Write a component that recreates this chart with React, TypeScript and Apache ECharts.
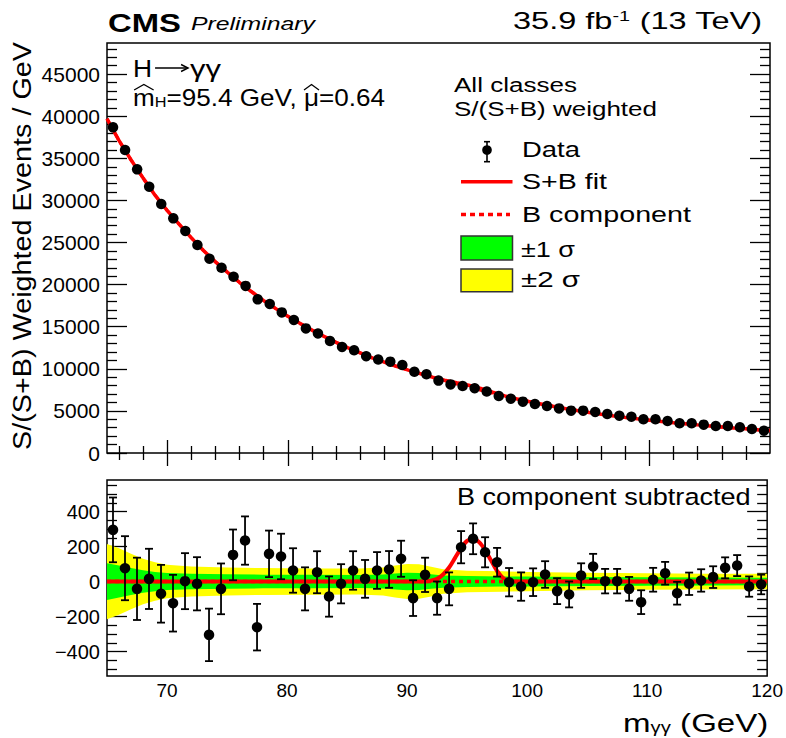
import React, { useEffect, useRef } from "react";
import * as echarts from "echarts";

const FONT = '"Liberation Sans", Arial, Helvetica, sans-serif';

// Diphoton mass bin centres (GeV), 1 GeV wide bins
const massBins = [
  65.5, 66.5, 67.5, 68.5, 69.5, 70.5, 71.5, 72.5, 73.5, 74.5, 75.5, 76.5, 77.5, 78.5,
  79.5, 80.5, 81.5, 82.5, 83.5, 84.5, 85.5, 86.5, 87.5, 88.5, 89.5, 90.5, 91.5, 92.5,
  93.5, 94.5, 95.5, 96.5, 97.5, 98.5, 99.5, 100.5, 101.5, 102.5, 103.5, 104.5, 105.5,
  106.5, 107.5, 108.5, 109.5, 110.5, 111.5, 112.5, 113.5, 114.5, 115.5, 116.5, 117.5,
  118.5, 119.5,
];

// S/(S+B) weighted events per GeV
const weightedEvents = [
  38680, 35990, 33690, 31630, 29570, 27870, 26370, 24700, 23080, 22000, 20940, 19850,
  18250, 17700, 16700, 15800, 14800, 14200, 13300, 12600, 12200, 11500, 11100, 10850,
  10450, 9650, 9350, 8600, 8150, 7950, 7700, 7300, 6770, 6450, 6100, 5820, 5580, 5300,
  5030, 5030, 4870, 4630, 4430, 4310, 4000, 4000, 3800, 3530, 3530, 3370, 3200, 3200,
  3050, 2850, 2650,
];

// Data minus the background component, with its uncertainty
const bkgSubtracted = [
  295, 76, -42, 15, -70, -124, 2, -13, -305, -42, 152, 234, -261, 158, 143, 63, -42, 53,
  -86, -13, 63, 15, 63, 69, 130, -95, 38, -95, -42, 196, 244, 167, 110, -4, -29, -4, 40,
  -55, -74, 34, 86, 2, 2, -42, -118, 10, 47, -67, -13, 6, 25, 78, 91, -29, -17,
];
const bkgSubtractedErr = [
  185, 183, 178, 172, 165, 162, 160, 152, 150, 145, 145, 138, 133, 133, 130, 127, 123,
  120, 115, 112, 110, 108, 105, 105, 103, 102, 98, 95, 94, 92, 88, 86, 82, 81, 81, 79, 76,
  74, 74, 70, 72, 70, 70, 68, 68, 68, 65, 65, 64, 64, 62, 60, 60, 58, 56,
];

// Background component of the fit
const fitMass = [
  65, 66, 67, 68, 69, 70, 71, 72, 73, 74, 75, 76, 77, 78, 79, 80, 81, 82, 83, 84, 85, 86,
  87, 88, 89, 90, 91, 92, 93, 94, 95, 96, 97, 98, 99, 100, 101, 102, 103, 104, 105, 106,
  107, 108, 109, 110, 111, 112, 113, 114, 115, 116, 117, 118, 119, 120,
];
const bkgFit = [
  39700, 37100, 34800, 32650, 30600, 28800, 27150, 25550, 24050, 22700, 21450, 20250,
  19150, 18100, 17150, 16250, 15400, 14600, 13850, 13150, 12500, 11900, 11300, 10800,
  10300, 9850, 9420, 9000, 8600, 8200, 7820, 7450, 7100, 6760, 6430, 6120, 5830, 5550,
  5290, 5050, 4820, 4610, 4410, 4230, 4060, 3900, 3740, 3600, 3470, 3340, 3220, 3100,
  2980, 2870, 2760, 2660,
];

// Signal component of the fit (S+B minus B)
const sigMass = [65, 91, 91.5, 92, 92.5, 93, 93.5, 94, 94.5, 95, 95.5, 96, 96.5, 97, 97.5, 98, 98.5, 99, 100, 120];
const sigFit = [0, 0, 0, 5, 15, 40, 80, 135, 190, 232, 245, 225, 180, 120, 60, 20, 5, 0, 0, 0];

// Half-widths of the 1 and 2 sigma bands of the background fit
const bandMass = [65, 66, 67, 68, 69, 70, 72, 75, 78, 82, 86, 88, 89, 90, 91, 92, 93, 95, 98, 100, 105, 110, 115, 120];
const band2 = [215, 190, 158, 130, 110, 96, 86, 80, 77, 75, 74, 80, 92, 100, 98, 85, 70, 62, 58, 55, 50, 47, 45, 44];
const band1 = [105, 92, 77, 64, 55, 48, 44, 41, 39, 38, 37, 40, 46, 50, 49, 42, 35, 31, 29, 28, 26, 24, 23, 22];

// Axis ticks and labels
const xLabels = [70, 80, 90, 100, 110, 120];
const xMajor = [70, 80, 90, 100, 110];
const yTopMajor = [0, 5000, 10000, 15000, 20000, 25000, 30000, 35000, 40000, 45000];
const yBotMajor = [-400, -200, 0, 200, 400];

const X_MIN = 65;
const X_MAX = 120;
const YT_MAX = 48700;
const YB_MIN = -540;
const YB_MAX = 580;

function steps(from: number, to: number, step: number, skip: number) {
  const out: number[] = [];
  for (let v = from; v <= to + 1e-9; v += step) {
    if (Math.abs(v % skip) > 1e-9) out.push(v);
  }
  return out;
}
const xMinor = steps(66, 118, 2, 10);
const yTopMinor = steps(1000, 48000, 1000, 5000);
const yBotMinor = steps(-500, 550, 50, 200);

const ctx2d = document.createElement("canvas").getContext("2d") as CanvasRenderingContext2D;
function measure(text: string, size: number, weight = "normal", style = "normal") {
  ctx2d.font = `${style} ${weight} ${size}px ${FONT}`;
  return ctx2d.measureText(text).width;
}

type TextOpts = { align?: string; weight?: string; italic?: boolean; rotation?: number };
function fittedText(text: string, x: number, y: number, size: number, target: number, o: TextOpts = {}) {
  const weight = o.weight ?? "normal";
  const fstyle = o.italic ? "italic" : "normal";
  const w = measure(text, size, weight, fstyle);
  const align = o.align ?? "left";
  return {
    type: "text",
    x,
    y,
    rotation: o.rotation ?? 0,
    scaleX: target / w,
    silent: true,
    z: 100,
    style: {
      text,
      fill: "#000",
      fontSize: size,
      fontFamily: FONT,
      fontWeight: weight,
      fontStyle: fstyle,
      align,
      verticalAlign: "middle",
      textAlign: align,
      textVerticalAlign: "middle",
    },
  };
}

function seg(x1: number, y1: number, x2: number, y2: number, stroke: string, lineWidth: number, lineDash?: number[]) {
  return {
    type: "line",
    silent: true,
    z: 100,
    shape: { x1, y1, x2, y2 },
    style: { stroke, lineWidth, lineDash },
  };
}

function hat(cx: number, halfW: number, yTop: number, yBase: number) {
  return {
    type: "polyline",
    silent: true,
    z: 100,
    shape: { points: [[cx - halfW, yBase], [cx, yTop], [cx + halfW, yBase]] },
    style: { stroke: "#000", lineWidth: 1.3, fill: "none" },
  };
}

function tickAxis(
  grid: number,
  position: string,
  min: number,
  max: number,
  ticks: number[],
  len: number,
  labels?: { values: number[]; size: number; margin: number; formatter?: (v: number) => string }
) {
  return {
    type: "value",
    gridIndex: grid,
    position,
    min,
    max,
    axisLine: { show: false },
    splitLine: { show: false },
    axisTick: {
      show: true,
      inside: true,
      length: len,
      customValues: ticks,
      lineStyle: { color: "#000", width: 1.3 },
    },
    axisLabel: labels
      ? {
          show: true,
          customValues: labels.values,
          formatter: labels.formatter ?? ((v: number) => String(v)),
          fontFamily: FONT,
          fontSize: labels.size,
          color: "#000",
          margin: labels.margin,
        }
      : { show: false },
  };
}

function bandSeries(half: number[], color: string, z: number) {
  return {
    type: "custom",
    xAxisIndex: 4,
    yAxisIndex: 4,
    z,
    silent: true,
    data: [[bandMass[0], 0]],
    renderItem: (_p: any, api: any) => {
      const pts: number[][] = [];
      bandMass.forEach((m, i) => pts.push(api.coord([m, half[i]])));
      for (let i = bandMass.length - 1; i >= 0; i--) pts.push(api.coord([bandMass[i], -half[i]]));
      return { type: "polygon", shape: { points: pts }, style: { fill: color } };
    },
  };
}

function sigAt(m: number) {
  const i = sigMass.indexOf(m);
  return i >= 0 ? sigFit[i] : 0;
}

function buildOption() {
  const red = "#ff0000";
  const topFitSB = fitMass.map((m, i) => [m, bkgFit[i] + sigAt(m)]);
  const topFitB = fitMass.map((m, i) => [m, bkgFit[i]]);
  const botFitB = fitMass.map((m, i) => [m, bkgFit[i] - bkgFit[i]]);
  const botFitSB = sigMass.map((m, i) => [m, sigFit[i]]);

  const yLabelFmt = (v: number) => (v < 0 ? "\u2212" + Math.abs(v) : String(v));

  // luminosity label with a superscript
  const lumiW = measure("35.9 fb", 23) + measure("-1", 14) + measure(" (13 TeV)", 23);
  const lumiScale = 249 / lumiW;

  // fitted mass and signal strength, with hats drawn over m and mu
  const fsFit = 24;
  const wm = measure("m", fsFit);
  const wH = measure("H", 15);
  const wMid = measure("=95.4 GeV, ", fsFit);
  const wMu = measure("\u03bc", fsFit);
  const wEnd = measure("=0.64", fsFit);
  const fitScale = 252 / (wm + wH + wMid + wMu + wEnd);
  const fitX = 133;
  const fitY = 97;
  const hat1 = fitX + (fitScale * wm) / 2;
  const hat2 = fitX + fitScale * (wm + wH + wMid + wMu / 2);

  // H -> gamma gamma, arrow drawn as a line with a head
  const hY = 68;
  const hW = measure("H", 24);
  const hScale = 1.1;
  const arrowX0 = 133 + hW * hScale + 3;
  const arrowX1 = arrowX0 + 33;

  const xtW = measure("m", 26) + measure("\u03b3\u03b3", 17) + measure(" (GeV)", 26);
  const xtScale = 146.6 / xtW;

  const graphic: any[] = [
    fittedText("CMS", 108, 22.5, 26, 73, { weight: "bold" }),
    fittedText("Preliminary", 191, 24, 18, 124, { italic: true }),
    {
      type: "text",
      x: 762,
      y: 21,
      scaleX: lumiScale,
      silent: true,
      z: 100,
      style: {
        text: "{n|35.9 fb}{sup|-1}{n| (13 TeV)}",
        fill: "#000",
        align: "right",
        verticalAlign: "middle",
        textAlign: "right",
        textVerticalAlign: "middle",
        rich: {
          n: { fontSize: 23, fontFamily: FONT, lineHeight: 23, fill: "#000" },
          sup: { fontSize: 14, fontFamily: FONT, lineHeight: 10, verticalAlign: "top", fill: "#000" },
        },
      },
    },
    {
      type: "text",
      x: 133,
      y: hY,
      scaleX: hScale,
      silent: true,
      z: 100,
      style: { text: "H", fill: "#000", fontSize: 24, fontFamily: FONT, align: "left", verticalAlign: "middle", textAlign: "left", textVerticalAlign: "middle" },
    },
    seg(arrowX0, hY, arrowX1, hY, "#000", 1.4),
    {
      type: "polyline",
      silent: true,
      z: 100,
      shape: { points: [[arrowX1 - 7, hY - 3.5], [arrowX1, hY], [arrowX1 - 7, hY + 3.5]] },
      style: { stroke: "#000", lineWidth: 1.4, fill: "none" },
    },
    fittedText("\u03b3\u03b3", arrowX1 + 2, hY + 1, 24, 31),
    {
      type: "text",
      x: fitX,
      y: fitY,
      scaleX: fitScale,
      silent: true,
      z: 100,
      style: {
        text: "{n|m}{sub|H}{n|=95.4 GeV, \u03bc=0.64}",
        fill: "#000",
        align: "left",
        verticalAlign: "middle",
        textAlign: "left",
        textVerticalAlign: "middle",
        rich: {
          n: { fontSize: fsFit, fontFamily: FONT, lineHeight: fsFit, fill: "#000" },
          sub: { fontSize: 15, fontFamily: FONT, lineHeight: 12, verticalAlign: "bottom", fill: "#000" },
        },
      },
    },
    hat(hat1, (fitScale * wm) / 2 * 0.9, 84.5, 90),
    hat(hat2, (fitScale * wMu) / 2 * 1.0, 84.5, 90),
    fittedText("All classes", 454, 85, 21, 123),
    fittedText("S/(S+B) weighted", 454, 109, 21, 203),
    // legend
    seg(487, 141.7, 487, 161.7, "#000", 1.6),
    seg(484, 141.7, 490, 141.7, "#000", 1.6),
    seg(484, 161.7, 490, 161.7, "#000", 1.6),
    { type: "circle", silent: true, z: 100, shape: { cx: 487, cy: 150, r: 4.8 }, style: { fill: "#000" } },
    fittedText("Data", 522, 149.5, 22, 58),
    seg(461, 181.7, 512.5, 181.7, red, 3.5),
    fittedText("S+B fit", 522, 181.7, 22, 85),
    seg(461, 214.5, 510, 214.5, red, 3.5, [5, 4]),
    fittedText("B component", 522, 213.8, 22, 169),
    {
      type: "rect",
      silent: true,
      z: 100,
      shape: { x: 461, y: 236, width: 51.5, height: 24 },
      style: { fill: "#00ff00", stroke: "#333", lineWidth: 1.5 },
    },
    fittedText("\u00b11 \u03c3", 521, 249, 22, 54),
    {
      type: "rect",
      silent: true,
      z: 100,
      shape: { x: 461, y: 269, width: 51.5, height: 22.7 },
      style: { fill: "#ffff00", stroke: "#333", lineWidth: 1.5 },
    },
    fittedText("\u00b12 \u03c3", 521, 279, 22, 59),
    fittedText("B component subtracted", 750.7, 496.5, 23.5, 294, { align: "right" }),
    fittedText("S/(S+B) Weighted Events / GeV", 23, 246, 25, 408, {
      align: "center",
      rotation: Math.PI / 2,
    }),
    {
      type: "text",
      x: 768.3,
      y: 722.4,
      scaleX: xtScale,
      silent: true,
      z: 100,
      style: {
        text: "{n|m}{sub|\u03b3\u03b3}{n| (GeV)}",
        fill: "#000",
        align: "right",
        verticalAlign: "middle",
        textAlign: "right",
        textVerticalAlign: "middle",
        rich: {
          n: { fontSize: 26, fontFamily: FONT, lineHeight: 26, fill: "#000" },
          sub: { fontSize: 16, fontFamily: FONT, lineHeight: 10, verticalAlign: "bottom", fill: "#000" },
        },
      },
    },
  ];

  return {
    animation: false,
    backgroundColor: "#fff",
    textStyle: { fontFamily: FONT },
    grid: [
      { left: 107, right: 16, top: 43, height: 410, show: true, borderColor: "#000", borderWidth: 1.5, backgroundColor: "transparent" },
      { left: 107, right: 16, top: 480, height: 196, show: true, borderColor: "#000", borderWidth: 1.5, backgroundColor: "transparent" },
    ],
    xAxis: [
      tickAxis(0, "bottom", X_MIN, X_MAX, xMajor, 13),
      tickAxis(0, "bottom", X_MIN, X_MAX, xMinor, 7),
      tickAxis(0, "top", X_MIN, X_MAX, xMajor, 13),
      tickAxis(0, "top", X_MIN, X_MAX, xMinor, 7),
      tickAxis(1, "bottom", X_MIN, X_MAX, xMajor, 6, { values: xLabels, size: 19, margin: 5 }),
      tickAxis(1, "bottom", X_MIN, X_MAX, xMinor, 3),
      tickAxis(1, "top", X_MIN, X_MAX, xMajor, 6),
      tickAxis(1, "top", X_MIN, X_MAX, xMinor, 3),
    ],
    yAxis: [
      tickAxis(0, "left", 0, YT_MAX, yTopMajor, 20, { values: yTopMajor, size: 21, margin: 7 }),
      tickAxis(0, "left", 0, YT_MAX, yTopMinor, 10),
      tickAxis(0, "right", 0, YT_MAX, yTopMajor, 20),
      tickAxis(0, "right", 0, YT_MAX, yTopMinor, 10),
      tickAxis(1, "left", YB_MIN, YB_MAX, yBotMajor, 20, { values: yBotMajor, size: 20, margin: 7, formatter: yLabelFmt }),
      tickAxis(1, "left", YB_MIN, YB_MAX, yBotMinor, 10),
      tickAxis(1, "right", YB_MIN, YB_MAX, yBotMajor, 20),
      tickAxis(1, "right", YB_MIN, YB_MAX, yBotMinor, 10),
    ],
    series: [
      // upper panel
      {
        type: "line",
        xAxisIndex: 0,
        yAxisIndex: 0,
        z: 2,
        silent: true,
        symbol: "none",
        data: topFitB,
        lineStyle: { color: red, width: 3, type: [5, 4] },
      },
      {
        type: "line",
        xAxisIndex: 0,
        yAxisIndex: 0,
        z: 3,
        silent: true,
        symbol: "none",
        data: topFitSB,
        lineStyle: { color: red, width: 3.5 },
      },
      {
        type: "scatter",
        xAxisIndex: 0,
        yAxisIndex: 0,
        z: 5,
        silent: true,
        symbol: "circle",
        symbolSize: 10.5,
        itemStyle: { color: "#000", opacity: 1 },
        data: massBins.map((m, i) => [m, weightedEvents[i]]),
      },
      // lower panel
      bandSeries(band2, "#ffff00", 1),
      bandSeries(band1, "#00ff00", 1),
      {
        type: "line",
        xAxisIndex: 4,
        yAxisIndex: 4,
        z: 2,
        silent: true,
        symbol: "none",
        data: botFitB,
        lineStyle: { color: red, width: 3.5, type: [4, 4] },
      },
      {
        type: "line",
        xAxisIndex: 4,
        yAxisIndex: 4,
        z: 3,
        silent: true,
        symbol: "none",
        smooth: 0.3,
        data: botFitSB,
        lineStyle: { color: red, width: 4 },
      },
      {
        type: "custom",
        xAxisIndex: 4,
        yAxisIndex: 4,
        z: 4,
        silent: true,
        data: massBins.map((m, i) => [m, bkgSubtracted[i], bkgSubtractedErr[i]]),
        encode: { x: 0, y: 1 },
        renderItem: (_p: any, api: any) => {
          const m = api.value(0);
          const v = api.value(1);
          const e = api.value(2);
          const hi = api.coord([m, v + e]);
          const lo = api.coord([m, v - e]);
          const st = { stroke: "#000", lineWidth: 1.8 };
          return {
            type: "group",
            children: [
              { type: "line", shape: { x1: hi[0], y1: hi[1], x2: lo[0], y2: lo[1] }, style: st },
              { type: "line", shape: { x1: hi[0] - 4, y1: hi[1], x2: hi[0] + 4, y2: hi[1] }, style: st },
              { type: "line", shape: { x1: lo[0] - 4, y1: lo[1], x2: lo[0] + 4, y2: lo[1] }, style: st },
            ],
          };
        },
      },
      {
        type: "scatter",
        xAxisIndex: 4,
        yAxisIndex: 4,
        z: 5,
        silent: true,
        symbol: "circle",
        symbolSize: 10.5,
        itemStyle: { color: "#000", opacity: 1 },
        data: massBins.map((m, i) => [m, bkgSubtracted[i]]),
      },
    ],
    graphic,
  };
}

export default function App() {
  const ref = useRef<HTMLDivElement>(null);
  useEffect(() => {
    if (!ref.current) return;
    const chart = echarts.init(ref.current, undefined, { renderer: "svg" });
    chart.setOption(buildOption() as any);
    return () => chart.dispose();
  }, []);
  return (
    <div
      ref={ref}
      style={{ position: "absolute", left: 0, top: 0, width: 786, height: 738, background: "#fff" }}
    />
  );
}
